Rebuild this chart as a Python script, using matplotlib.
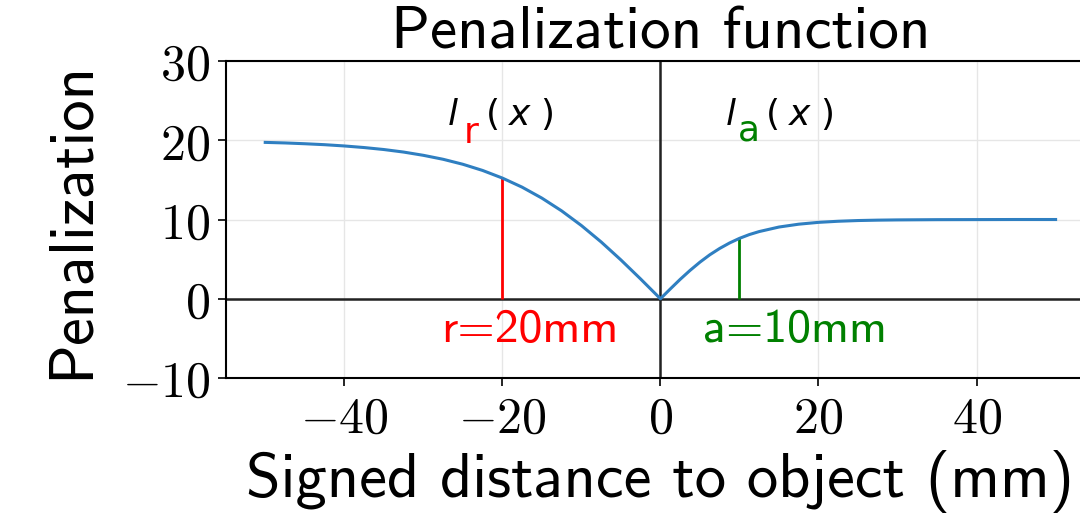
import numpy as np
import matplotlib
matplotlib.use("Agg")
import matplotlib.pyplot as plt
from matplotlib.ticker import FuncFormatter

# ---- data ----
dist_left = [-50, -47.5, -45, -42.5, -40, -37.5, -35, -32.5, -30, -27.5, -25,
             -22.5, -20, -17.5, -15, -12.5, -10, -7.5, -5, -2.5, 0]
pen_left = [19.73, 19.66, 19.56, 19.44, 19.28, 19.08, 18.83, 18.51, 18.10, 17.60,
            16.97, 16.19, 15.23, 14.08, 12.70, 11.09, 9.24, 7.17, 4.90, 2.49, 0.0]
dist_right = [0, 1.25, 2.5, 3.75, 5, 6.25, 7.5, 8.75, 10, 11.25, 12.5, 15, 17.5,
              20, 22.5, 25, 27.5, 30, 35, 40, 45, 50]
pen_right = [0.0, 1.24, 2.45, 3.58, 4.62, 5.55, 6.35, 7.04, 7.62, 8.10, 8.48,
             9.05, 9.41, 9.64, 9.78, 9.87, 9.92, 9.95, 9.98, 9.99, 10.0, 10.0]

r_dist = -20   # repulsive radius marker
a_dist = 10    # attractive radius marker

xticks = [-40, -20, 0, 20, 40]
yticks = [-10, 0, 10, 20, 30]

plt.rcParams['mathtext.fontset'] = 'cm'
SANS = 'cmss10'

fig = plt.figure(figsize=(10.8, 5.16), dpi=100)
ax = fig.add_axes([0.209, 0.2674, 0.805, 0.6144])

dist = dist_left + dist_right[1:]
pen = pen_left + pen_right[1:]
ax.plot(dist, pen, color='#2f7fc1', lw=2.2, zorder=3)

ax.axhline(0, color='#222222', lw=1.8, zorder=2)
ax.axvline(0, color='#222222', lw=1.8, zorder=2)

ax.vlines(r_dist, 0, pen_left[dist_left.index(r_dist)], color='red', lw=2, zorder=2)
ax.vlines(a_dist, 0, pen_right[dist_right.index(a_dist)], color='green', lw=2, zorder=2)

ax.set_xlim(-55, 55)
ax.set_ylim(-10, 30)
ax.set_xticks(xticks)
ax.set_yticks(yticks)
fmt = FuncFormatter(lambda v, p: r'$%d$' % v if v >= 0 else r'$-%d$' % abs(v))
ax.xaxis.set_major_formatter(fmt)
ax.yaxis.set_major_formatter(fmt)
ax.tick_params(labelsize=36, length=6, width=1.2)
ax.tick_params(axis='y', pad=5)
ax.tick_params(axis='x', pad=6)
ax.grid(True, color='#e6e6e6', lw=1)
ax.set_axisbelow(True)
for s in ax.spines.values():
    s.set_linewidth(1.5)

ax.set_title('Penalization function', fontsize=44, family=SANS, pad=5)
ax.set_xlabel('Signed distance to object (mm)', fontsize=45, family=SANS, labelpad=5)
ax.set_ylabel('Penalization', fontsize=45, family=SANS, labelpad=16)

# annotations
tk = dict(fontsize=26, math_fontfamily='dejavusans', va='baseline', ha='left')
ax.text(-27.0, 21.9, r'$l$', **tk)
ax.text(-24.9, 19.6, 'r', color='red', fontsize=26, va='baseline', ha='left')
ax.text(-22.2, 21.9, r'$(\;x\;)$', **tk)
ax.text(8.2, 21.9, r'$l$', **tk)
ax.text(9.8, 20.0, 'a', color='green', fontsize=26, va='baseline', ha='left')
ax.text(13.2, 21.9, r'$(\;x\;)$', **tk)

ax.text(-16.5, -3.9, 'r=20mm', color='red', fontsize=34.5, family=SANS,
        ha='center', va='center')
ax.text(17.0, -3.9, 'a=10mm', color='green', fontsize=34.5, family=SANS,
        ha='center', va='center')

fig.savefig('out.png', dpi=100)
